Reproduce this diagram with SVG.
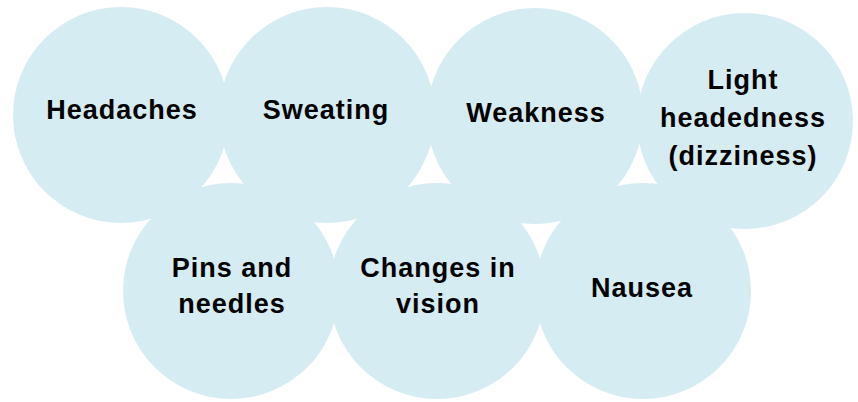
<svg xmlns="http://www.w3.org/2000/svg" width="858" height="402" viewBox="0 0 858 402">
<style>
.c{fill:#d6ecf3;stroke:none}
.t{font-family:"Liberation Sans",Arial,sans-serif;font-weight:bold;font-size:27px;letter-spacing:1px;fill:#000;text-anchor:middle}
</style>
<rect width="858" height="402" fill="#fff"/>
<g id="connectors"></g>
<g id="headaches"><circle class="c" cx="121" cy="115" r="108"/><text class="t" x="122" y="119">Headaches</text></g>
<g id="sweating"><circle class="c" cx="327" cy="115" r="108"/><text class="t" x="326" y="119">Sweating</text></g>
<g id="weakness"><circle class="c" cx="535" cy="116" r="108"/><text class="t" x="536" y="122">Weakness</text></g>
<g id="light"><circle class="c" cx="745" cy="121" r="108"/><text class="t" x="743" y="89">Light</text><text class="t" x="743" y="127">headedness</text><text class="t" x="743" y="165">(dizziness)</text></g>
<g id="pins"><circle class="c" cx="231" cy="291" r="108"/><text class="t" x="232" y="277">Pins and</text><text class="t" x="232" y="313">needles</text></g>
<g id="changes"><circle class="c" cx="437" cy="291" r="108"/><text class="t" x="438" y="277">Changes in</text><text class="t" x="438" y="313">vision</text></g>
<g id="nausea"><circle class="c" cx="643" cy="291" r="108"/><text class="t" x="642" y="297">Nausea</text></g>
</svg>
